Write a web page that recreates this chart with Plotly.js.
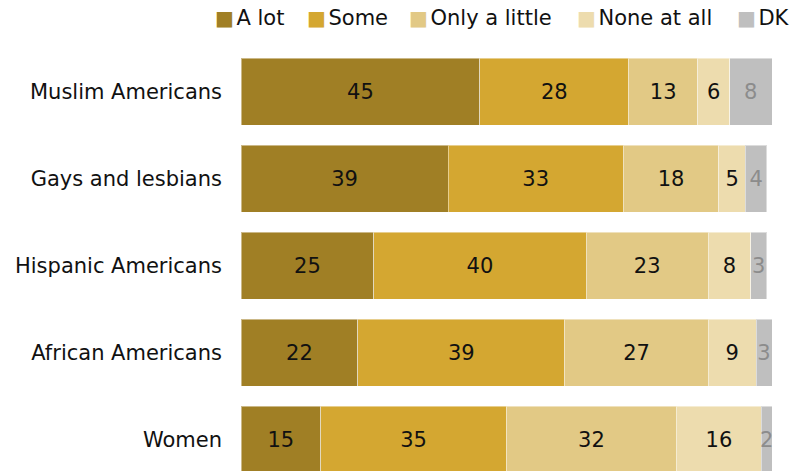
<!DOCTYPE html>
<html>
<head>
<meta charset="utf-8">
<script src="https://cdn.plot.ly/plotly-3.0.1.min.js"></script>
<style>html,body{margin:0;padding:0;background:#fff;}#chart{width:796px;height:471px;}</style>
</head>
<body>
<div id="chart"></div>
<script>
const categories = ["Muslim Americans", "Gays and lesbians", "Hispanic Americans", "African Americans", "Women"];
const seriesNames = ["A lot", "Some", "Only a little", "None at all", "DK"];
const aLot = [45, 39, 25, 22, 15];
const some = [28, 33, 40, 39, 35];
const onlyALittle = [13, 18, 23, 27, 32];
const noneAtAll = [6, 5, 8, 9, 16];
const dk = [8, 4, 3, 3, 2];
const colors = ["#A07F25", "#D4A731", "#E2C985", "#EDDCAE", "#BFBFBF"];
const textColors = ["#111111", "#111111", "#111111", "#111111", "#8C8C8C"];

const seriesValues = [aLot, some, onlyALittle, noneAtAll, dk];
const FONT = "DejaVu Sans, Verdana, sans-serif";

const traces = seriesValues.map((vals, i) => ({
  type: "bar",
  orientation: "h",
  name: seriesNames[i],
  y: categories,
  x: vals,
  text: vals.map(String),
  textposition: "inside",
  insidetextanchor: "middle",
  constraintext: "none",
  textfont: {family: FONT, size: 21, color: textColors[i]},
  marker: {color: colors[i], line: {color: "rgba(255,255,255,0.45)", width: 1}},
  hoverinfo: "none",
  showlegend: false
}));

// legend as text annotations (colored square glyph + label)
const legendX = [213, 305, 407, 575, 735];
const annotations = seriesNames.map((n, i) => ({
  xref: "paper", yref: "paper",
  x: (legendX[i] - 241) / 531,
  y: 1 + (48 - 18) / 423,
  xanchor: "left", yanchor: "middle",
  showarrow: false,
  text: '<span style="color:' + colors[i] + ';font-size:20px">■</span><span style="font-size:8px"> </span>' + n,
  font: {family: FONT, size: 21, color: "#111"}
}));

const layout = {
  width: 796, height: 471,
  margin: {l: 241, r: 24, t: 48, b: 0, pad: 0},
  paper_bgcolor: "#fff", plot_bgcolor: "#fff",
  barmode: "stack",
  bargap: 0.23,
  showlegend: false,
  xaxis: {range: [0, 100], visible: false, fixedrange: true},
  yaxis: {
    type: "category",
    categoryorder: "array", categoryarray: categories,
    range: [4.362, -0.5], autorange: false,
    showgrid: false, zeroline: false, showline: false, ticks: "",
    ticklabelstandoff: 18,
    tickfont: {family: FONT, size: 21, color: "#111"}
  },
  annotations: annotations,
  font: {family: FONT}
};

Plotly.newPlot("chart", traces, layout, {displayModeBar: false, staticPlot: true});
</script>
</body>
</html>
